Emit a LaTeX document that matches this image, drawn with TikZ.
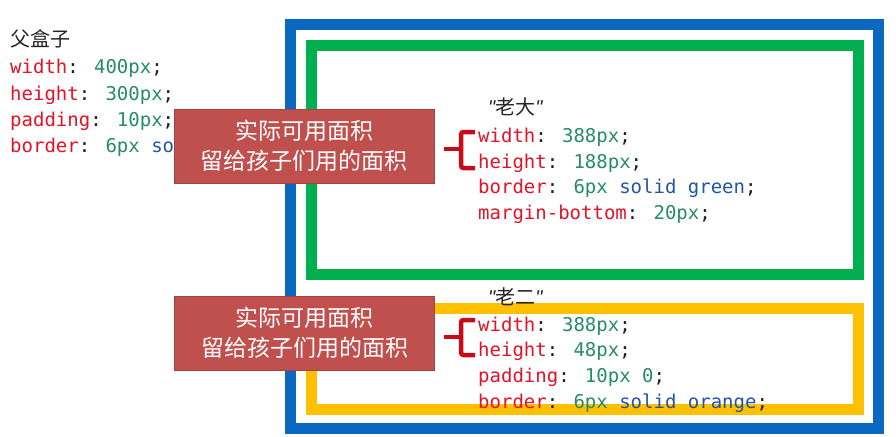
\documentclass[tikz,border=0pt]{standalone}
\usepackage{fontspec}
\setmainfont{Liberation Sans}
\newfontfamily\cjkfont{Noto Sans CJK SC}
\newfontfamily\monofont{DejaVu Sans Mono}
\definecolor{pblue}{RGB}{10,104,192}
\definecolor{pgreen}{RGB}{0,176,80}
\definecolor{pgold}{RGB}{255,192,0}
\definecolor{boxred}{RGB}{192,80,77}
\definecolor{cprop}{RGB}{225,20,40}
\definecolor{cval}{RGB}{38,140,105}
\definecolor{ckw}{RGB}{35,85,170}
\definecolor{cpunc}{RGB}{30,30,30}
\definecolor{bracered}{RGB}{200,10,25}
\newcommand{\cssP}[1]{\textcolor{cprop}{#1}}
\newcommand{\cssV}[1]{\textcolor{cval}{#1}}
\newcommand{\cssK}[1]{\textcolor{ckw}{#1}}
\tikzset{
  code/.style={anchor=base west, inner sep=0pt, font=\monofont\fontsize{19}{26}\selectfont, text=cpunc},
  frame/.style={line width=11pt},
  note/.style={fill=boxred, draw=boxred!85!black, line width=0.6pt, text=white,
    font=\cjkfont\fontsize{23}{30}\selectfont, align=center,
    minimum width=260pt, minimum height=74pt, inner sep=0pt},
  cjktext/.style={anchor=base west, inner sep=0pt, font=\cjkfont\fontsize{20}{24}\selectfont, text=black!85},
  bracket/.style={draw=bracered, line width=4.5pt, rounded corners=2.5pt}
}
\begin{document}
\begin{tikzpicture}[x=1pt,y=-1pt]
\useasboundingbox[fill=white] (0,0) rectangle (896,436);
% frames
\draw[frame, draw=pblue] (290.5,24.5) rectangle (878,428);
\draw[frame, draw=pgreen] (311.5,45.5) rectangle (858,274.5);
\draw[frame, draw=pgold] (311.5,308) rectangle (858,409.5);
% parent box text
\node[cjktext] (ptitle) at (10,47) {父盒子};
\node[code] (p1) at (10,74) {\cssP{width}: \cssV{400px};};
\node[code] (p2) at (10,100) {\cssP{height}: \cssV{300px};};
\node[code] (p3) at (10,126) {\cssP{padding}: \cssV{10px};};
\node[code] (p4) at (10,152) {\cssP{border}: \cssV{6px} \cssK{so}};
% first child
\node[cjktext] (t1) at (488,114) {{\fontspec{Liberation Sans}\itshape "}老大{\fontspec{Liberation Sans}\itshape "}};
\node[code] (a1) at (478,142) {\cssP{width}: \cssV{388px};};
\node[code] (a2) at (478,168) {\cssP{height}: \cssV{188px};};
\node[code] (a3) at (478,193) {\cssP{border}: \cssV{6px} \cssK{solid green};};
\node[code] (a4) at (478,219) {\cssP{margin-bottom}: \cssV{20px};};
% second child
\node[cjktext] (t2) at (488,304) {{\fontspec{Liberation Sans}\itshape "}老二{\fontspec{Liberation Sans}\itshape "}};
\node[code] (b1) at (478,331) {\cssP{width}: \cssV{388px};};
\node[code] (b2) at (478,356) {\cssP{height}: \cssV{48px};};
\node[code] (b3) at (478,382) {\cssP{padding}: \cssV{10px 0};};
\node[code] (b4) at (478,408) {\cssP{border}: \cssV{6px} \cssK{solid orange};};
% brackets
\draw[bracket] (475,132) -- (461,132) -- (461,168) -- (475,168);
\draw[bracket] (461,149) -- (444,149);
\draw[bracket] (475,320) -- (461,320) -- (461,355) -- (475,355);
\draw[bracket] (461,337) -- (444,337);
% notes
\node[note] (n1) at (304,146) {实际可用面积\\留给孩子们用的面积};
\node[note] (n2) at (304.5,333) {实际可用面积\\留给孩子们用的面积};
\end{tikzpicture}
\end{document}
